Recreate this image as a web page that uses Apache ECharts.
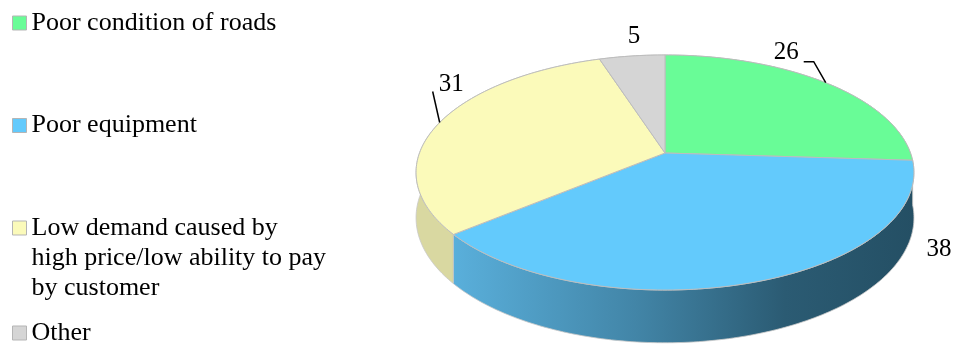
<!DOCTYPE html>
<html><head><meta charset="utf-8">
<script src="https://cdn.jsdelivr.net/npm/echarts@6/dist/echarts.min.js"></script>
<style>html,body{margin:0;padding:0;background:#fff}#c{width:955px;height:345px}</style>
</head><body><div id="c"></div>
<script>
// ---- data ----
const categories = ['Poor condition of roads', 'Poor equipment', 'Low demand caused by high price/low ability to pay by customer', 'Other'];
const legendTexts = ['Poor condition of roads', 'Poor equipment', 'Low demand caused by\nhigh price/low ability to pay\nby customer', 'Other'];
const values = [26, 38, 31, 5];

// ---- styles / layout ----
const FONT = '"Times New Roman","Liberation Serif",serif';
const topColors = ['#69FC97', '#63CAFC', '#FBFABA', '#D5D5D5'];
const sideColors = [
  '#4DBE72',
  new echarts.graphic.LinearGradient(450, 0, 915, 0, [
    {offset: 0, color: '#5AB0DC'},
    {offset: 0.4, color: '#4285A7'},
    {offset: 0.72, color: '#2B5B73'},
    {offset: 1, color: '#244F64'}
  ], true),
  '#D9D8A1',
  '#ABABAB'
];
const G = {cx: 665, cy: 153, R: 245.5, k: 114.3, d: 6.03, t: 44};
const labelLayout = [
  {dx: -27, dy: -30, align: 'right', line: [[0, 0], [-12, -21], [-22, -21]]},
  {dx: 184, dy: -33, align: 'center', line: null},
  {dx: -1, dy: -38.5, align: 'left', line: [[0, 0], [-7, -31]]},
  {dx: 2, dy: -20, align: 'center', line: null}
];
const legendTops = [8, 110.5, 153, 318];

function proj(a, h) {
  const u = Math.sin(a), v = -Math.cos(a), s = G.d / (G.d - v);
  return [G.cx + G.R * u * s, G.cy + (G.k * v + h * G.t) * s];
}

// put the first line of a multi-line legend text level with its marker
function legendFormat(txt) {
  const n = txt.split('\n').length;
  return n > 1 ? '\n'.repeat(n - 1) + txt : txt;
}

function makeRender(idx) {
  return function (params, api) {
    const total = values.reduce((a, b) => a + b, 0);
    let before = 0;
    for (let j = 0; j < idx; j++) before += values[j];
    const val = api.value(0);
    const a0 = before / total * 2 * Math.PI;
    const a1 = (before + val) / total * 2 * Math.PI;
    const steps = Math.max(4, Math.ceil((a1 - a0) / (Math.PI / 180)));
    const topArc = [], botArc = [];
    let maxV = -2;
    for (let s = 0; s <= steps; s++) {
      const a = a0 + (a1 - a0) * s / steps;
      topArc.push(proj(a, 0));
      botArc.push(proj(a, 1));
      maxV = Math.max(maxV, -Math.cos(a));
    }
    const wallPts = topArc.concat(botArc.slice().reverse());
    const topPts = [[G.cx, G.cy]].concat(topArc);
    const am = (a0 + a1) / 2;
    const P = proj(am, 0);
    const L = labelLayout[idx];
    const children = [
      {type: 'polygon', z2: 1 + maxV, shape: {points: wallPts},
       style: {fill: sideColors[idx], stroke: '#C8C8C8', lineWidth: 0.8}},
      {type: 'polygon', z2: 10, shape: {points: topPts},
       style: {fill: topColors[idx], stroke: '#BDBDBD', lineWidth: 1}},
      {type: 'text', z2: 20, style: {
        text: String(val), x: P[0] + L.dx, y: P[1] + L.dy,
        fill: '#000', fontSize: 25, fontFamily: FONT,
        align: L.align, verticalAlign: 'middle'}}
    ];
    if (L.line) {
      children.push({type: 'polyline', z2: 20,
        shape: {points: L.line.map(p => [P[0] + p[0], P[1] + p[1]])},
        style: {stroke: '#000', lineWidth: 1.5, fill: null}});
    }
    return {type: 'group', children: children};
  };
}

const chart = echarts.init(document.getElementById('c'), null, {renderer: 'canvas'});
const series = categories.map((name, i) => ({
  type: 'custom', name: name, coordinateSystem: 'none',
  itemStyle: {color: topColors[i]},
  data: [[values[i]]],
  renderItem: makeRender(i),
  animation: false
}));
const legends = categories.map((name, i) => ({
  orient: 'vertical', left: 12, top: legendTops[i], padding: 0,
  itemWidth: 14, itemHeight: 14, itemGap: 5,
  icon: 'rect', selectedMode: false,
  itemStyle: {borderColor: '#B5B5B5', borderWidth: 1},
  formatter: () => legendFormat(legendTexts[i]),
  textStyle: {fontSize: 26, fontFamily: FONT, color: '#000', lineHeight: 30},
  data: [name]
}));
chart.setOption({
  animation: false,
  backgroundColor: '#fff',
  legend: legends,
  series: series
});
</script></body></html>
